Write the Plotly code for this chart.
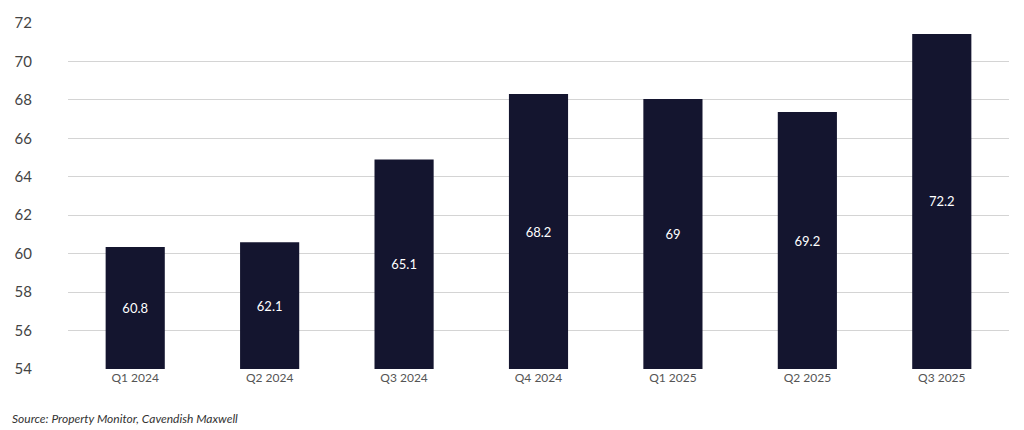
import plotly.graph_objects as go

categories = ["Q1 2024", "Q2 2024", "Q3 2024", "Q4 2024", "Q1 2025", "Q2 2025", "Q3 2025"]
bar_values = [60.35, 60.6, 64.9, 68.3, 68.05, 67.37, 71.43]
bar_labels = ["60.8", "62.1", "65.1", "68.2", "69", "69.2", "72.2"]
y_ticks = [54, 56, 58, 60, 62, 64, 66, 68, 70, 72]
axis_min = 54
source_text = "Source: Property Monitor, Cavendish Maxwell"

FONT = "Lato, 'Open Sans', sans-serif"

fig = go.Figure(go.Bar(
    x=categories,
    y=[v - axis_min for v in bar_values],
    base=axis_min,
    text=bar_labels,
    textposition="inside",
    insidetextanchor="middle",
    textangle=0,
    textfont=dict(color="white", size=13, family=FONT),
    marker=dict(color="#14152f", line=dict(width=0)),
    hoverinfo="skip",
))

fig.update_layout(
    width=1024, height=430,
    margin=dict(l=68, r=15, t=23, b=61),
    paper_bgcolor="white", plot_bgcolor="white",
    bargap=0.56,
    showlegend=False,
    font=dict(family=FONT, color="#444"),
    uniformtext=dict(minsize=8, mode="show"),
)
fig.update_xaxes(
    showgrid=False, showline=False, ticks="", automargin=False,
    tickfont=dict(size=12, color="#555", family=FONT),
)
fig.update_yaxes(
    range=[54, 72], tickvals=y_ticks, automargin=False,
    showgrid=True, gridcolor="#d4d4d4", gridwidth=1,
    zeroline=False, showline=False, ticks="",
    tickfont=dict(size=15, color="#444", family=FONT),
    ticklabelstandoff=35,
)
fig.add_annotation(
    text="<i>" + source_text + "</i>",
    xref="paper", yref="paper", x=-0.062, y=-0.142,
    xanchor="left", yanchor="middle", showarrow=False,
    font=dict(size=12, color="#333", family=FONT),
)

fig.write_html(
    "out.html",
    config={"displayModeBar": False},
    post_script="document.body.style.margin='0';document.body.style.overflow='hidden';",
)
